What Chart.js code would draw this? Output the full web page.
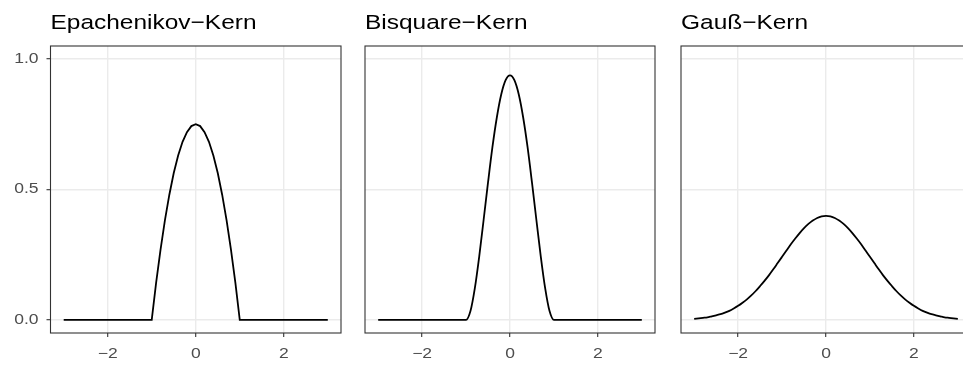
<!DOCTYPE html>
<html>
<head>
<meta charset="utf-8">
<script src="https://cdn.jsdelivr.net/npm/chart.js@4.4.1/dist/chart.umd.min.js"></script>
<style>
  html, body { margin: 0; padding: 0; background: #fff; }
  body { width: 963px; height: 367px; overflow: hidden; position: relative; }
  .panel { position: absolute; top: 0; height: 367px; }
</style>
</head>
<body>
<div class="panel" style="left:0px;width:343px"><canvas id="c1" width="343" height="367"></canvas></div>
<div class="panel" style="left:340px;width:320px"><canvas id="c2" width="320" height="367"></canvas></div>
<div class="panel" style="left:656px;width:320px"><canvas id="c3" width="320" height="367"></canvas></div>
<script>
// facet titles
const panelTitles = ["Epachenikov\u2212Kern", "Bisquare\u2212Kern", "Gau\u00df\u2212Kern"];

// shared x grid
const xGrid = [
  -3.0, -2.9, -2.8, -2.7, -2.6, -2.5, -2.4, -2.3, -2.2, -2.1,
  -2.0, -1.9, -1.8, -1.7, -1.6, -1.5, -1.4, -1.3, -1.2, -1.1,
  -1.0, -0.9, -0.8, -0.7, -0.6, -0.5, -0.4, -0.3, -0.2, -0.1,
  0.0,
  0.1, 0.2, 0.3, 0.4, 0.5, 0.6, 0.7, 0.8, 0.9, 1.0,
  1.1, 1.2, 1.3, 1.4, 1.5, 1.6, 1.7, 1.8, 1.9, 2.0,
  2.1, 2.2, 2.3, 2.4, 2.5, 2.6, 2.7, 2.8, 2.9, 3.0
];

const epanechnikov = [
  0, 0, 0, 0, 0, 0, 0, 0, 0, 0,
  0, 0, 0, 0, 0, 0, 0, 0, 0, 0,
  0, 0.143, 0.270, 0.383, 0.480, 0.563, 0.630, 0.683, 0.720, 0.743,
  0.750,
  0.743, 0.720, 0.683, 0.630, 0.563, 0.480, 0.383, 0.270, 0.143, 0,
  0, 0, 0, 0, 0, 0, 0, 0, 0, 0,
  0, 0, 0, 0, 0, 0, 0, 0, 0, 0
];

const bisquare = [
  0, 0, 0, 0, 0, 0, 0, 0, 0, 0,
  0, 0, 0, 0, 0, 0, 0, 0, 0, 0,
  0, 0.034, 0.122, 0.244, 0.384, 0.527, 0.662, 0.776, 0.864, 0.919,
  0.9375,
  0.919, 0.864, 0.776, 0.662, 0.527, 0.384, 0.244, 0.122, 0.034, 0,
  0, 0, 0, 0, 0, 0, 0, 0, 0, 0,
  0, 0, 0, 0, 0, 0, 0, 0, 0, 0
];

const gauss = [
  0.004, 0.006, 0.008, 0.010, 0.014, 0.018, 0.022, 0.028, 0.035, 0.044,
  0.054, 0.066, 0.079, 0.094, 0.111, 0.130, 0.150, 0.171, 0.194, 0.218,
  0.242, 0.266, 0.290, 0.312, 0.333, 0.352, 0.368, 0.381, 0.391, 0.397,
  0.399,
  0.397, 0.391, 0.381, 0.368, 0.352, 0.333, 0.312, 0.290, 0.266, 0.242,
  0.218, 0.194, 0.171, 0.150, 0.130, 0.111, 0.094, 0.079, 0.066, 0.054,
  0.044, 0.035, 0.028, 0.022, 0.018, 0.014, 0.010, 0.008, 0.006, 0.004
];

const xTicks = [-2, 0, 2];
const yTicks = [0, 0.5, 1.0];

const FONT = "'Liberation Sans', Arial, Helvetica, sans-serif";
// the reference text is a bit wider than Liberation Sans
const TEXT_STRETCH = 1.25;

function fmtX(v) { return v < 0 ? "\u2212" + Math.abs(v) : String(v); }
function fmtY(v) { return v.toFixed(1); }

function wideText(ctx, text, x, y, sx) {
  ctx.save();
  ctx.translate(x, y);
  ctx.scale(sx, 1);
  ctx.fillText(text, 0, 0);
  ctx.restore();
}

// panel border, facet title and tick labels
const panelDecor = {
  id: "panelDecor",
  afterDraw(chart) {
    const a = chart.chartArea;
    const ctx = chart.ctx;
    const opts = chart.options.plugins.panelDecor;
    ctx.save();
    ctx.strokeStyle = "#333333";
    ctx.lineWidth = 1.1;
    ctx.strokeRect(a.left, a.top, a.right - a.left, a.bottom - a.top);

    // title
    ctx.fillStyle = "#000000";
    ctx.font = "20.5px " + FONT;
    ctx.textBaseline = "alphabetic";
    ctx.textAlign = "left";
    const ref = ctx.measureText(panelTitles[0]).width;
    wideText(ctx, opts.title, a.left, a.top - 17, 206 / ref);

    // tick labels
    ctx.fillStyle = "#4D4D4D";
    ctx.font = "14px " + FONT;
    ctx.textBaseline = "middle";
    ctx.textAlign = "center";
    const xs = chart.scales.x;
    xTicks.forEach(v => {
      wideText(ctx, fmtX(v), xs.getPixelForValue(v), a.bottom + 21.5, TEXT_STRETCH);
    });
    if (opts.showY) {
      const ys = chart.scales.y;
      ctx.textAlign = "right";
      yTicks.forEach(v => {
        wideText(ctx, fmtY(v), a.left - 12, ys.getPixelForValue(v), TEXT_STRETCH);
      });
    }
    ctx.restore();
  }
};

function makePanel(id, title, values, showY, padLeft, padRight, smooth) {
  const points = xGrid.map((x, i) => ({ x: x, y: values[i] }));
  return new Chart(document.getElementById(id), {
    type: "line",
    data: {
      datasets: [{
        data: points,
        borderColor: "#000000",
        borderWidth: 1.8,
        pointRadius: 0,
        tension: smooth ? 0.4 : 0,
        cubicInterpolationMode: smooth ? "monotone" : "default",
        fill: false
      }]
    },
    options: {
      responsive: false,
      animation: false,
      layout: { padding: { top: 46, left: padLeft, right: padRight, bottom: 0 } },
      plugins: {
        legend: { display: false },
        tooltip: { enabled: false },
        panelDecor: { title: title, showY: showY }
      },
      scales: {
        x: {
          type: "linear",
          min: -3.3,
          max: 3.3,
          afterBuildTicks: s => { s.ticks = xTicks.map(v => ({ value: v })); },
          afterFit: s => { s.height = 34; },
          border: { display: false },
          grid: { color: "#EBEBEB", lineWidth: 1.4, tickColor: "#333333", tickLength: 4, tickWidth: 1.1 },
          ticks: { display: false }
        },
        y: {
          type: "linear",
          min: -0.05,
          max: 1.05,
          afterBuildTicks: s => { s.ticks = yTicks.map(v => ({ value: v })); },
          afterFit: s => { s.width = showY ? 50.5 : 0; },
          border: { display: false },
          grid: { color: "#EBEBEB", lineWidth: 1.4, tickColor: "#333333", tickLength: 4, tickWidth: 1.1, drawTicks: showY },
          ticks: { display: false }
        }
      }
    },
    plugins: [panelDecor]
  });
}

makePanel("c1", panelTitles[0], epanechnikov, true, 0, 2, false);
makePanel("c2", panelTitles[1], bisquare, false, 25, 5, true);
makePanel("c3", panelTitles[2], gauss, false, 25, 5, true);
</script>
</body>
</html>
